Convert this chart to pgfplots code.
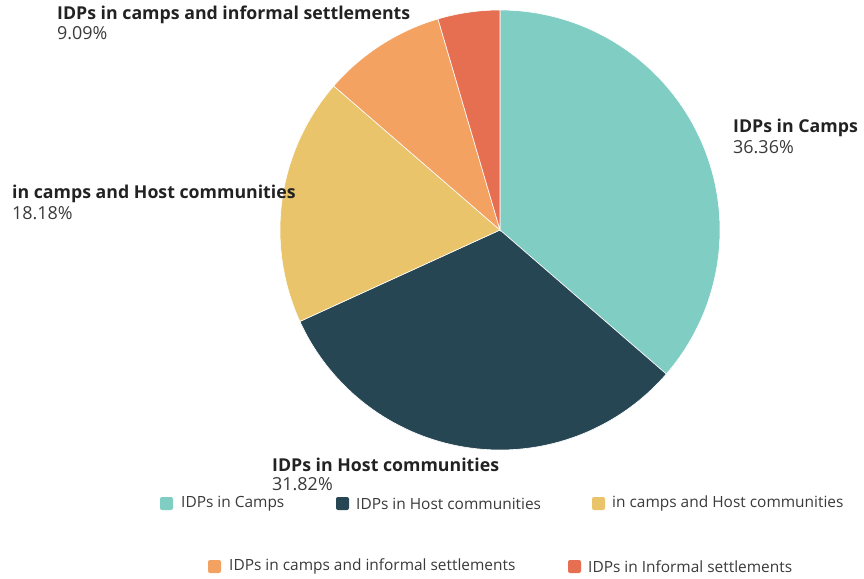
\documentclass[border=0pt]{standalone}
\usepackage{pgfplots}
\usepackage{pgfplotstable}
\pgfplotsset{compat=1.18}
\usepackage{fontspec}
\setmainfont{Open Sans}
\definecolor{c0}{HTML}{7FCDC3}
\definecolor{c1}{HTML}{264653}
\definecolor{c2}{HTML}{E9C46A}
\definecolor{c3}{HTML}{F4A261}
\definecolor{c4}{HTML}{E76F51}
\definecolor{txt}{HTML}{222222}
\definecolor{pct}{HTML}{3A3A3A}
\pgfplotstableread[col sep=comma]{
name,value
IDPs in Camps,36.36
IDPs in Host communities,31.82
in camps and Host communities,18.18
IDPs in camps and informal settlements,9.09
IDPs in Informal settlements,4.55
}\piedata
\begin{document}
\begin{tikzpicture}
\begin{axis}[
  hide axis, scale only axis, width=864bp, height=579bp,
  xmin=0, xmax=864, ymin=0, ymax=579, y dir=reverse,
  clip=false,
]
\pgfplotstablegetrowsof{\piedata}
\pgfmathtruncatemacro\N{\pgfplotsretval-1}
\def\cum{0}
\pgfplotsforeachungrouped \i in {0,...,\N}{%
  \pgfplotstablegetelem{\i}{value}\of\piedata
  \let\v\pgfplotsretval
  \pgfmathsetmacro\a{\cum*3.6}%
  \pgfmathsetmacro\b{(\cum+\v)*3.6}%
  \edef\temp{\noexpand\addplot[fill=c\i, draw=white, line width=0.6pt, domain=\a:\b, samples=80, variable=\noexpand\t] ({500+220*sin(\noexpand\t)},{230-220*cos(\noexpand\t)}) -- (axis cs:500,230) -- cycle;}%
  \temp
  \pgfmathsetmacro\cum{\cum+\v}%
}
% slice labels
\begin{scope}[every node/.style={anchor=base west, inner sep=0pt, font=\fontsize{18}{21}\selectfont}]
\node[txt, font=\fontsize{17.8}{21}\selectfont\bfseries] at (axis cs:733,132) {IDPs in Camps};
\node[pct] at (axis cs:733,153) {36.36\%};
\node[txt, font=\fontsize{17.8}{21}\selectfont\bfseries] at (axis cs:272,471) {IDPs in Host communities};
\node[pct] at (axis cs:272,490) {31.82\%};
\node[txt, font=\fontsize{17.8}{21}\selectfont\bfseries] at (axis cs:12,198) {in camps and Host communities};
\node[pct] at (axis cs:12,219) {18.18\%};
\node[txt, font=\fontsize{17.8}{21}\selectfont\bfseries] at (axis cs:57,20) {IDPs in camps and informal settlements};
\node[pct] at (axis cs:57,40) {9.09\%};
\end{scope}
% legend
\begin{scope}[every node/.style={anchor=west, inner sep=0pt, text=pct, font=\fontsize{15.5}{18}\selectfont}]
\fill[c0, rounded corners=2pt] (axis cs:160,497) rectangle (axis cs:173,510);
\node at (axis cs:181,503.5) {IDPs in Camps};
\fill[c1, rounded corners=2pt] (axis cs:336,497) rectangle (axis cs:349,510);
\node at (axis cs:356,503.5) {IDPs in Host communities};
\fill[c2, rounded corners=2pt] (axis cs:592,497) rectangle (axis cs:605,510);
\node at (axis cs:612,503.5) {in camps and Host communities};
\fill[c3, rounded corners=2pt] (axis cs:208,560) rectangle (axis cs:221,573);
\node at (axis cs:229,566.5) {IDPs in camps and informal settlements};
\fill[c4, rounded corners=2pt] (axis cs:568,560) rectangle (axis cs:581,573);
\node at (axis cs:588,566.5) {IDPs in Informal settlements};
\end{scope}
\end{axis}
\pgfresetboundingbox
\path[use as bounding box] (current axis.south west) rectangle (current axis.north east);
\end{tikzpicture}
\end{document}
